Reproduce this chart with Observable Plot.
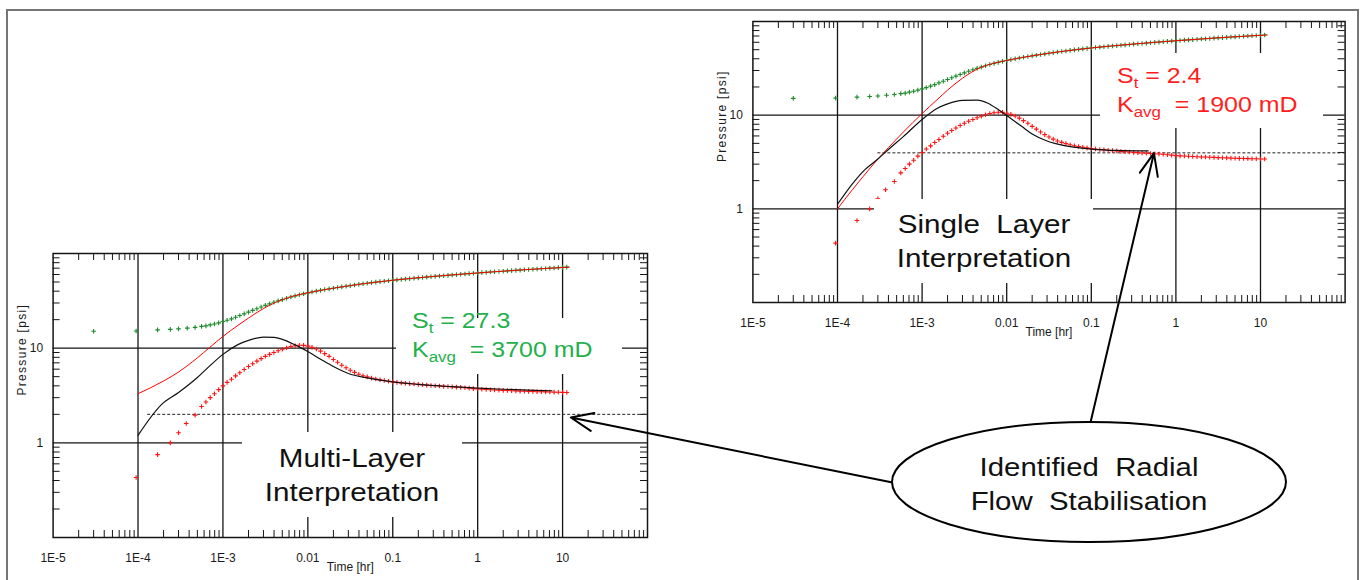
<!DOCTYPE html>
<html><head><meta charset="utf-8">
<script src="https://cdn.jsdelivr.net/npm/d3@7"></script>
<script src="https://cdn.jsdelivr.net/npm/@observablehq/plot@0.6"></script>
<style>
html,body{margin:0;padding:0;background:#fff;}
#page{position:relative;width:1365px;height:580px;overflow:hidden;background:#fff;font-family:"Liberation Sans",Arial,sans-serif;}
.holder{position:absolute;}
.holder svg{display:block;max-width:none;}
#border{position:absolute;left:6px;top:9px;width:1353px;height:700px;box-sizing:border-box;border:2px solid #767676;border-bottom:none;}
</style></head>
<body><div id="page"><div id="border"></div></div>
<script>
// ---------------- DATA ----------------
const xTickValues = [1e-5, 1e-4, 1e-3, 0.01, 0.1, 1, 10];
const xTickLabels = ["1E-5", "1E-4", "1E-3", "0.01", "0.1", "1", "10"];
const yTickValues = [1, 10];
const yTickLabels = ["1", "10"];
const xGridValues = [1e-4, 1e-3, 0.01, 0.1, 1, 10];
const yGridValues = [1, 10];
const xDecades = [1e-5, 1e-4, 1e-3, 0.01, 0.1, 1, 10];
const yDecades = [0.1, 1, 10];
const minorMultipliers = [2, 3, 4, 5, 6, 7, 8, 9];
const xAxisLabel = "Time [hr]";
const yAxisLabel = "Pressure [psi]";

// measured pressure change (green) – early sparse samples
const timeEarlyP = [3.0e-5, 9.5e-5, 1.7e-4, 2.4e-4, 3.0e-4, 3.8e-4, 4.7e-4, 5.6e-4];
const pressEarly = [15.1, 15.2, 15.6, 15.8, 16.0, 16.3, 16.6, 17.0];
// measured derivative (red) – early sparse samples
const timeEarlyD = [9.5e-5, 1.7e-4, 2.4e-4, 3.0e-4, 3.7e-4, 4.7e-4, 5.6e-4];
const derivEarly = [0.43, 0.75, 1.0, 1.28, 1.6, 1.96, 2.42];
// dense samples shared by both measured series
const timeDense = [
  6.31e-4, 7.08e-4, 7.94e-4, 8.91e-4, 1.00e-3, 1.12e-3, 1.26e-3, 1.41e-3, 1.58e-3, 1.78e-3,
  2.00e-3, 2.24e-3, 2.51e-3, 2.82e-3, 3.16e-3, 3.55e-3, 3.98e-3, 4.47e-3, 5.01e-3, 5.62e-3,
  6.31e-3, 7.08e-3, 7.94e-3, 8.91e-3, 0.0100, 0.0112, 0.0126, 0.0141, 0.0158, 0.0178,
  0.0200, 0.0224, 0.0251, 0.0282, 0.0316, 0.0355, 0.0398, 0.0447, 0.0501, 0.0562,
  0.0631, 0.0708, 0.0794, 0.0891, 0.100, 0.112, 0.126, 0.141, 0.158, 0.178,
  0.200, 0.224, 0.251, 0.282, 0.316, 0.355, 0.398, 0.447, 0.501, 0.562,
  0.631, 0.708, 0.794, 0.891, 1.00, 1.12, 1.26, 1.41, 1.58, 1.78,
  2.00, 2.24, 2.51, 2.82, 3.16, 3.55, 3.98, 4.47, 5.01, 5.62,
  6.31, 7.08, 7.94, 8.91, 10.0, 11.2];
const pressDense = [
  17.2, 17.6, 18.0, 18.5, 19.1, 19.7, 20.4, 21.2, 22.1, 23.0,
  24.0, 25.1, 26.1, 27.2, 28.3, 29.4, 30.5, 31.6, 32.6, 33.7,
  34.7, 35.7, 36.6, 37.5, 38.4, 39.2, 40.0, 40.8, 41.6, 42.3,
  43.0, 43.7, 44.4, 45.1, 45.8, 46.5, 47.2, 47.9, 48.5, 49.2,
  49.8, 50.4, 51.0, 51.6, 52.2, 52.7, 53.3, 53.8, 54.3, 54.8,
  55.3, 55.8, 56.3, 56.8, 57.3, 57.8, 58.3, 58.8, 59.3, 59.8,
  60.3, 60.8, 61.3, 61.8, 62.3, 62.8, 63.2, 63.7, 64.1, 64.6,
  65.0, 65.5, 65.9, 66.4, 66.8, 67.3, 67.7, 68.2, 68.6, 69.1,
  69.5, 70.0, 70.4, 70.9, 71.3, 71.8];
const derivDense = [
  2.7, 3.0, 3.3, 3.65, 4.0, 4.35, 4.7, 5.1, 5.5, 5.95,
  6.4, 6.85, 7.3, 7.75, 8.2, 8.6, 9.0, 9.4, 9.75, 10.1,
  10.4, 10.6, 10.75, 10.7, 10.5, 10.2, 9.8, 9.3, 8.75, 8.2,
  7.6, 7.1, 6.6, 6.2, 5.85, 5.55, 5.3, 5.12, 4.97, 4.83,
  4.72, 4.63, 4.55, 4.47, 4.4, 4.35, 4.3, 4.26, 4.22, 4.18,
  4.14, 4.1, 4.07, 4.04, 4.01, 3.98, 3.95, 3.93, 3.9, 3.88,
  3.85, 3.82, 3.78, 3.74, 3.7, 3.68, 3.66, 3.64, 3.62, 3.6,
  3.58, 3.57, 3.55, 3.54, 3.52, 3.51, 3.5, 3.48, 3.47, 3.46,
  3.45, 3.44, 3.43, 3.42, 3.41, 3.4];

// Multi-layer model (left panel)
const multiPressT = [1e-4, 2e-4, 3e-4, 5e-4, 7e-4, 1e-3, 1.5e-3, 2e-3, 3e-3, 5e-3, 7e-3, 0.01, 0.02, 0.05, 0.1, 0.3, 1, 3, 12];
const multiPressV = [3.3, 4.5, 5.6, 7.9, 10.2, 13.3, 17.4, 20.8, 26.2, 32.5, 35.8, 38.4, 43.0, 48.5, 52.2, 57.3, 62.3, 66.8, 71.8];
const multiDerivT = [1e-4, 1.9e-4, 3e-4, 5e-4, 7e-4, 1e-3, 1.5e-3, 2e-3, 3e-3, 4e-3, 5e-3, 7e-3, 0.01, 0.015, 0.02, 0.03, 0.05, 0.1, 0.2, 0.5, 1, 2, 4, 7.5];
const multiDerivV = [1.2, 2.55, 3.4, 4.9, 6.5, 8.6, 10.9, 12.1, 13.1, 13.0, 12.4, 10.9, 9.2, 7.4, 6.4, 5.4, 4.85, 4.4, 4.15, 3.92, 3.78, 3.68, 3.6, 3.55];
const multiStab = {value: 2.0, from: 1.3e-4, to: 100};
const multiText = {st: "27.3", kavg: "3700 mD", title: ["Multi-Layer", "Interpretation"]};

// Single-layer model (right panel)
const singlePressT = [1e-4, 1.5e-4, 2e-4, 3e-4, 4e-4, 6e-4, 1e-3, 1.5e-3, 2e-3, 3e-3, 5e-3, 7e-3, 0.01, 0.02, 0.05, 0.1, 0.3, 1, 3, 12];
const singlePressV = [1.0, 1.6, 2.2, 3.4, 4.5, 6.6, 10.4, 14.6, 18.5, 24.8, 32.5, 35.8, 38.4, 43.0, 48.5, 52.2, 57.3, 62.3, 66.8, 71.8];
const singleDerivT = [1e-4, 1.5e-4, 2e-4, 3e-4, 4e-4, 6e-4, 1e-3, 1.5e-3, 2e-3, 3e-3, 4.5e-3, 6e-3, 8e-3, 0.01, 0.015, 0.02, 0.03, 0.05, 0.1, 0.2, 0.47];
const singleDerivV = [1.12, 1.85, 2.5, 3.4, 4.3, 5.9, 9.0, 11.8, 13.2, 14.4, 14.5, 13.4, 11.4, 9.9, 7.6, 6.3, 5.3, 4.7, 4.35, 4.2, 4.15];
const singleStab = {value: 3.96, from: 3.0e-4, to: 100};
const singleText = {st: "2.4", kavg: "1900 mD", title: ["Single  Layer", "Interpretation"]};

// arrow targets (data coordinates in each panel)
const arrowTargets = [{panel: "left", t: 12.5, p: 1.85}, {panel: "right", t: 0.55, p: 3.93}];
const calloutText = ["Identified  Radial", "Flow  Stabilisation"];

// ---------------- LAYOUT / STYLE ----------------
const FONT = '"Liberation Sans", Arial, sans-serif';
const COLORS = {grid: "#151515", green: "#1f8a2c", red: "#ff1212", model: "#111", greenText: "#24b04b", redText: "#ff1e1e"};
const LAYOUT = {
  left: {x: 0, y: 233, width: 660, height: 347, margin: {left: 52.6, right: 13, top: 20, bottom: 43}},
  right: {x: 700, y: 0, width: 660, height: 350, margin: {left: 52.4, right: 15.4, top: 21, bottom: 48}}
};
const BOXES = {
  leftSt: {x: 396, y: 318, w: 226, h: 56, tx: 412, ty1: 328, ty2: 357},
  rightSt: {x: 1100, y: 53, w: 223, h: 75, tx: 1117, ty1: 83, ty2: 112},
  leftTitle: {x: 242, y: 432, w: 220, h: 85, cx: 352, ty1: 467, ty2: 501},
  rightTitle: {x: 874, y: 199, w: 219, h: 84, cx: 984, ty1: 233, ty2: 267}
};
const ELLIPSE = {cx: 1089, cy: 482, rx: 197, ry: 60, ty1: 476, ty2: 510};

const xMinor = xDecades.flatMap(d => minorMultipliers.map(m => m * d));
const yMinor = yDecades.flatMap(d => minorMultipliers.map(m => m * d));
const xLabMap = new Map(xTickValues.map((v, i) => [v, xTickLabels[i]]));
const yLabMap = new Map(yTickValues.map((v, i) => [v, yTickLabels[i]]));

const pressData = timeEarlyP.map((t, i) => ({t, v: pressEarly[i]}))
  .concat(timeDense.map((t, i) => ({t, v: pressDense[i]})));
const derivData = timeEarlyD.map((t, i) => ({t, v: derivEarly[i]}))
  .concat(timeDense.map((t, i) => ({t, v: derivDense[i]})));

function makePanel(L, modelPT, modelPV, modelDT, modelDV, stab) {
  const m = L.margin;
  const fw = L.width - m.left - m.right, fh = L.height - m.top - m.bottom;
  const tickLen = 7;
  const mp = modelPT.map((t, i) => ({t, v: modelPV[i]}));
  const md = modelDT.map((t, i) => ({t, v: modelDV[i]}));
  const svg = Plot.plot({
    width: L.width, height: L.height,
    marginLeft: m.left, marginRight: m.right, marginTop: m.top, marginBottom: m.bottom,
    style: {fontFamily: FONT, fontSize: "12px", color: "#1a1a1a", background: "transparent", overflow: "visible"},
    x: {type: "log", domain: [1e-5, 100], label: null},
    y: {type: "log", domain: [0.1, 100], label: null},
    marks: [
      Plot.ruleX(xGridValues, {x: d => d, stroke: COLORS.grid, strokeWidth: 1.3}),
      Plot.ruleY(yGridValues, {y: d => d, stroke: COLORS.grid, strokeWidth: 1.3}),
      Plot.tickX(xMinor, {x: d => d, insetTop: fh - tickLen, stroke: COLORS.grid}),
      Plot.tickX(xMinor, {x: d => d, insetBottom: fh - tickLen, stroke: COLORS.grid}),
      Plot.tickY(yMinor, {y: d => d, insetRight: fw - tickLen, stroke: COLORS.grid}),
      Plot.tickY(yMinor, {y: d => d, insetLeft: fw - tickLen, stroke: COLORS.grid}),
      Plot.ruleY([stab], {y: d => d.value, x1: d => d.from, x2: d => d.to, stroke: "#222", strokeWidth: 1, strokeDasharray: "3,2"}),
      Plot.dot(pressData, {x: "t", y: "v", symbol: "plus", r: 1.6, stroke: COLORS.green, strokeWidth: 1.1}),
      Plot.dot(derivData, {x: "t", y: "v", symbol: "plus", r: 1.6, stroke: COLORS.red, strokeWidth: 1.1}),
      Plot.line(mp, {x: "t", y: "v", stroke: "#ff0000", strokeWidth: 1, curve: "monotone-x"}),
      Plot.line(md, {x: "t", y: "v", stroke: COLORS.model, strokeWidth: 1.2, curve: "monotone-x"}),
      Plot.frame({stroke: COLORS.grid, strokeWidth: 1.5}),
      Plot.axisX(xTickValues, {tickSize: 0, tickPadding: 16, fontSize: 12, tickFormat: d => xLabMap.get(d), label: null}),
      Plot.axisY(yTickValues, {tickSize: 0, tickPadding: 10, fontSize: 12, tickFormat: d => yLabMap.get(d), label: null}),
      Plot.text([xAxisLabel], {text: d => d, frameAnchor: "bottom", dy: 33, fontSize: 12}),
      Plot.text([yAxisLabel], {text: d => d, frameAnchor: "left", rotate: -90, dx: -31, fontSize: 12})
    ]
  });
  d3.select(svg).selectAll("text").filter(function () { return this.textContent === yAxisLabel; })
    .attr("letter-spacing", "1.3px");
  const holder = document.createElement("div");
  holder.className = "holder";
  holder.style.left = L.x + "px";
  holder.style.top = L.y + "px";
  holder.style.width = L.width + "px";
  holder.appendChild(svg);
  document.getElementById("page").appendChild(holder);
  return svg;
}

const leftSvg = makePanel(LAYOUT.left, multiPressT, multiPressV, multiDerivT, multiDerivV, multiStab);
const rightSvg = makePanel(LAYOUT.right, singlePressT, singlePressV, singleDerivT, singleDerivV, singleStab);

// arrows: from callout ellipse to points expressed in each panel's scales
const panels = {left: {svg: leftSvg, L: LAYOUT.left}, right: {svg: rightSvg, L: LAYOUT.right}};
const arrowStarts = {left: {x: ELLIPSE.cx - ELLIPSE.rx, y: ELLIPSE.cy}, right: {x: ELLIPSE.cx + 1, y: ELLIPSE.cy - ELLIPSE.ry}};
const arrows = arrowTargets.map(a => {
  const P = panels[a.panel];
  return {
    x1: arrowStarts[a.panel].x, y1: arrowStarts[a.panel].y,
    x2: P.L.x + P.svg.scale("x").apply(a.t),
    y2: P.L.y + P.svg.scale("y").apply(a.p)
  };
});

const overlay = Plot.plot({
  width: 1365, height: 580, margin: 0,
  style: {background: "transparent", overflow: "visible"},
  x: {type: "identity", axis: null},
  y: {type: "identity", axis: null},
  marks: [
    Plot.arrow(arrows, {x1: "x1", y1: "y1", x2: "x2", y2: "y2", stroke: "#000", strokeWidth: 2, headLength: 18, headAngle: 45})
  ]
});
const ov = d3.select(overlay);
const underG = ov.insert("g", ":first-child");

function textLine(g, x, y, anchor, size, scale, color, parts) {
  const t = g.append("text")
    .attr("transform", `translate(${x},${y}) scale(${scale},1)`)
    .attr("text-anchor", anchor)
    .attr("font-family", FONT)
    .attr("font-size", size)
    .attr("fill", color)
    .style("white-space", "pre");
  parts.forEach(p => {
    const s = t.append("tspan").text(p.text);
    if (p.sub) s.attr("font-size", size * 0.68).attr("dy", 5);
    if (p.back) s.attr("dy", -5);
  });
  return t;
}

function stBox(b, info, color) {
  underG.append("rect").attr("x", b.x).attr("y", b.y).attr("width", b.w).attr("height", b.h).attr("fill", "#fff");
  textLine(underG, b.tx, b.ty1, "start", 21.5, 1.16, color, [{text: "S"}, {text: "t", sub: true}, {text: " = " + info.st, back: true}]);
  textLine(underG, b.tx, b.ty2, "start", 21.5, 1.16, color, [{text: "K"}, {text: "avg", sub: true}, {text: "  = " + info.kavg, back: true}]);
}
function titleBox(b, lines) {
  underG.append("rect").attr("x", b.x).attr("y", b.y).attr("width", b.w).attr("height", b.h).attr("fill", "#fff");
  textLine(underG, b.cx, b.ty1, "middle", 25.5, 1.16, "#111", [{text: lines[0]}]);
  textLine(underG, b.cx, b.ty2, "middle", 25.5, 1.16, "#111", [{text: lines[1]}]);
}
stBox(BOXES.leftSt, multiText, COLORS.greenText);
stBox(BOXES.rightSt, singleText, COLORS.redText);
titleBox(BOXES.leftTitle, multiText.title);
titleBox(BOXES.rightTitle, singleText.title);

ov.append("ellipse").attr("cx", ELLIPSE.cx).attr("cy", ELLIPSE.cy).attr("rx", ELLIPSE.rx).attr("ry", ELLIPSE.ry)
  .attr("fill", "#fff").attr("stroke", "#000").attr("stroke-width", 2);
const topG = ov.append("g");
textLine(topG, ELLIPSE.cx, ELLIPSE.ty1, "middle", 26, 1.13, "#111", [{text: calloutText[0]}]);
textLine(topG, ELLIPSE.cx, ELLIPSE.ty2, "middle", 26, 1.13, "#111", [{text: calloutText[1]}]);

const oh = document.createElement("div");
oh.className = "holder";
oh.style.left = "0px"; oh.style.top = "0px"; oh.style.width = "1365px";
oh.appendChild(overlay);
document.getElementById("page").appendChild(oh);
</script></body></html>
